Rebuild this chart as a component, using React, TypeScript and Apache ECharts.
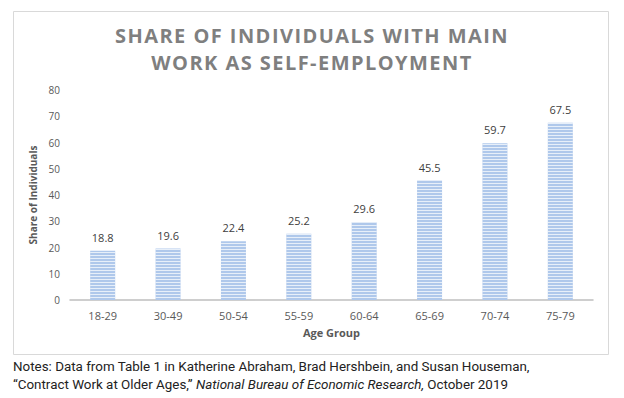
import React, { useEffect, useRef } from "react";
import * as echarts from "echarts";

const categories = ["18-29", "30-49", "50-54", "55-59", "60-64", "65-69", "70-74", "75-79"];
const values = [18.8, 19.6, 22.4, 25.2, 29.6, 45.5, 59.7, 67.5];
const titleLines = ["SHARE OF INDIVIDUALS WITH MAIN", "WORK AS SELF-EMPLOYMENT"];
const yAxisName = "Share of Individuals";
const xAxisName = "Age Group";

export default function App() {
  const ref = useRef<HTMLDivElement>(null);
  useEffect(() => {
    document.body.style.margin = "0";
    const chart = echarts.init(ref.current!, null, { renderer: "svg" });
    const applySpacing = () => {
      const root = ref.current;
      if (!root) return;
      root.querySelectorAll("text").forEach((t) => {
        const s = (t.textContent || "").trim();
        if (titleLines.includes(s)) {
          t.setAttribute("letter-spacing", "1.45");
          t.style.letterSpacing = "1.45px";
        }
      });
    };
    chart.on("finished", applySpacing);
    chart.setOption({
      animation: false,
      backgroundColor: "#ffffff",
      title: {
        text: titleLines.join("\n"),
        left: "center",
        top: 17,
        textStyle: {
          fontFamily: "Open Sans",
          fontWeight: "bold",
          fontSize: 20,
          lineHeight: 27,
          color: "#7f7f7f",
        },
      },
      grid: { left: 70, right: 31, top: 90, bottom: 98 },
      xAxis: {
        type: "category",
        data: categories,
        name: xAxisName,
        nameLocation: "middle",
        nameGap: 27,
        nameTextStyle: { fontFamily: "Open Sans", fontWeight: "bold", fontSize: 11, color: "#595959" },
        axisLine: { lineStyle: { color: "#bfbfbf", width: 1.5 } },
        axisTick: { show: false },
        axisLabel: { fontFamily: "Open Sans", fontSize: 11, color: "#595959", margin: 10 },
      },
      yAxis: {
        type: "value",
        min: 0,
        max: 80,
        interval: 10,
        name: yAxisName,
        nameLocation: "middle",
        nameGap: 30,
        nameTextStyle: { fontFamily: "Open Sans", fontWeight: "bold", fontSize: 10, color: "#595959" },
        axisLine: { show: false },
        axisTick: { show: false },
        splitLine: { show: false },
        axisLabel: { fontFamily: "Open Sans", fontSize: 10, color: "#595959", margin: 10 },
      },
      series: [
        {
          type: "bar",
          data: values,
          barWidth: 25,
          itemStyle: {
            color: "#afc8eb",
            decal: {
              symbol: "rect",
              symbolSize: 1,
              color: "rgba(255,255,255,0.7)",
              dashArrayX: [1, 0],
              dashArrayY: [1, 2],
              rotation: 0,
            },
          },
          label: {
            show: true,
            position: "top",
            distance: 8,
            fontFamily: "Open Sans",
            fontSize: 11,
            color: "#404040",
          },
        },
      ],
      graphic: [
        {
          type: "rect",
          shape: { x: 13.5, y: 11.5, width: 595, height: 343 },
          style: { fill: "none", stroke: "#d9d9d9", lineWidth: 1 },
          silent: true,
        },
        {
          type: "text",
          left: 13,
          top: 360,
          style: {
            text: "Notes: Data from Table 1 in Katherine Abraham, Brad Hershbein, and Susan Houseman,",
            fontFamily: "Roboto",
            fontSize: 13.4,
            fill: "#222222",
          },
        },
        {
          type: "text",
          left: 13,
          top: 378,
          style: {
            text: "{n|\u201cContract Work at Older Ages,\u201d }{i|National Bureau of Economic Research,}{n| October 2019}",
            rich: {
              n: { fontFamily: "Roboto", fontSize: 13.4, fill: "#222222" },
              i: { fontFamily: "Roboto", fontSize: 13.4, fontStyle: "italic", fill: "#222222" },
            },
          },
        },
      ],
    });
    applySpacing();
    return () => chart.dispose();
  }, []);
  return <div ref={ref} style={{ width: 624, height: 398 }} />;
}
